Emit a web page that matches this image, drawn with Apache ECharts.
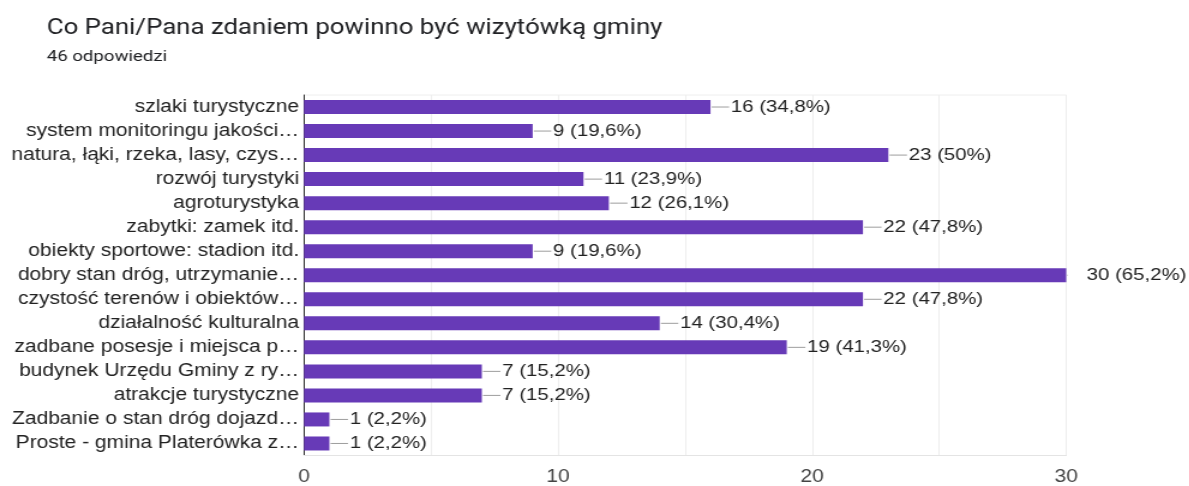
<!DOCTYPE html>
<html lang="pl">
<head>
<meta charset="utf-8">
<title>Co Pani/Pana zdaniem powinno być wizytówką gminy</title>
<script src="https://cdn.jsdelivr.net/npm/echarts@6/dist/echarts.min.js"></script>
<style>
  html, body { margin: 0; padding: 0; background: #fff; overflow: hidden; }
  /* The chart is laid out on a narrower canvas and widened 1.2x horizontally. */
  #chart {
    width: 991px;
    height: 486px;
    transform: scaleX(1.2);
    transform-origin: 0 0;
  }
</style>
</head>
<body>
<div id="chart"></div>
<script>
// Survey question and number of responses
const titleText = 'Co Pani/Pana zdaniem powinno być wizytówką gminy';
const responsesText = '46 odpowiedzi';
const totalResponses = 46;

// Answer options (shown shortened, top to bottom)
const categories = [
  'szlaki turystyczne',
  'system monitoringu jakości…',
  'natura, łąki, rzeka, lasy, czys…',
  'rozwój turystyki',
  'agroturystyka',
  'zabytki: zamek itd.',
  'obiekty sportowe: stadion itd.',
  'dobry stan dróg, utrzymanie…',
  'czystość terenów i obiektów…',
  'działalność kulturalna',
  'zadbane posesje i miejsca p…',
  'budynek Urzędu Gminy z ry…',
  'atrakcje turystyczne',
  'Zadbanie o stan dróg dojazd…',
  'Proste - gmina Platerówka z…'
];

// Number of responses per option
const counts = [16, 9, 23, 11, 12, 22, 9, 30, 22, 14, 19, 7, 7, 1, 1];

// Value axis ticks
const axisMin = 0;
const axisMax = 30;
const gridStep = 5;
const labelStep = 10;

const labelFont = '"Liberation Sans", Arial, sans-serif';

function percentText(v) {
  const p = (Math.round(v / totalResponses * 1000) / 10).toFixed(1);
  return p.replace(/\.0$/, '').replace('.', ',');
}

const chart = echarts.init(document.getElementById('chart'));

chart.setOption({
  animation: false,
  backgroundColor: '#ffffff',
  title: [
    {
      text: titleText,
      left: 34,
      top: 13,
      textStyle: {
        fontFamily: 'Roboto, sans-serif',
        fontSize: 21.5,
        fontWeight: 'normal',
        color: '#202124'
      }
    },
    {
      text: responsesText,
      left: 34,
      top: 44.5,
      textStyle: {
        fontFamily: 'Roboto, sans-serif',
        fontSize: 15.5,
        fontWeight: 'normal',
        color: '#202124'
      }
    }
  ],
  grid: {
    left: 253.3,
    right: 102.5,
    top: 95,
    height: 363,
    show: true,
    borderColor: '#eeeeee',
    borderWidth: 1
  },
  xAxis: {
    type: 'value',
    min: axisMin,
    max: axisMax,
    interval: gridStep,
    axisLine: { show: true, lineStyle: { color: '#e4e4e4' } },
    axisTick: { show: false },
    splitLine: { show: true, lineStyle: { color: '#eeeeee' } },
    axisLabel: {
      margin: 12.5,
      fontFamily: labelFont,
      fontSize: 17.5,
      color: '#444444',
      formatter: v => (v % labelStep === 0 ? String(v) : '')
    }
  },
  yAxis: {
    type: 'category',
    data: categories,
    inverse: true,
    axisLine: { show: true, lineStyle: { color: '#333333', width: 1 } },
    axisTick: { show: false },
    splitLine: { show: false },
    axisLabel: {
      margin: 4,
      fontFamily: labelFont,
      fontSize: 17.5,
      color: '#222222'
    }
  },
  series: [
    {
      type: 'bar',
      data: counts,
      barWidth: 14,
      itemStyle: { color: '#673ab7' },
      label: {
        show: true,
        position: 'right',
        distance: 17,
        fontFamily: labelFont,
        fontSize: 17,
        color: '#222222',
        formatter: p => p.value + ' (' + percentText(p.value) + '%)'
      },
      z: 3
    },
    {
      // short leader line from the bar end to its value label
      type: 'custom',
      data: counts.map((v, i) => [v, i]),
      clip: true,
      silent: true,
      z: 2,
      renderItem: (params, api) => {
        const p = api.coord([api.value(0), api.value(1)]);
        return {
          type: 'line',
          shape: { x1: p[0] + 1, y1: p[1], x2: p[0] + 15.5, y2: p[1] },
          style: { stroke: '#9e9e9e', lineWidth: 1 }
        };
      }
    }
  ]
});
</script>
</body>
</html>
